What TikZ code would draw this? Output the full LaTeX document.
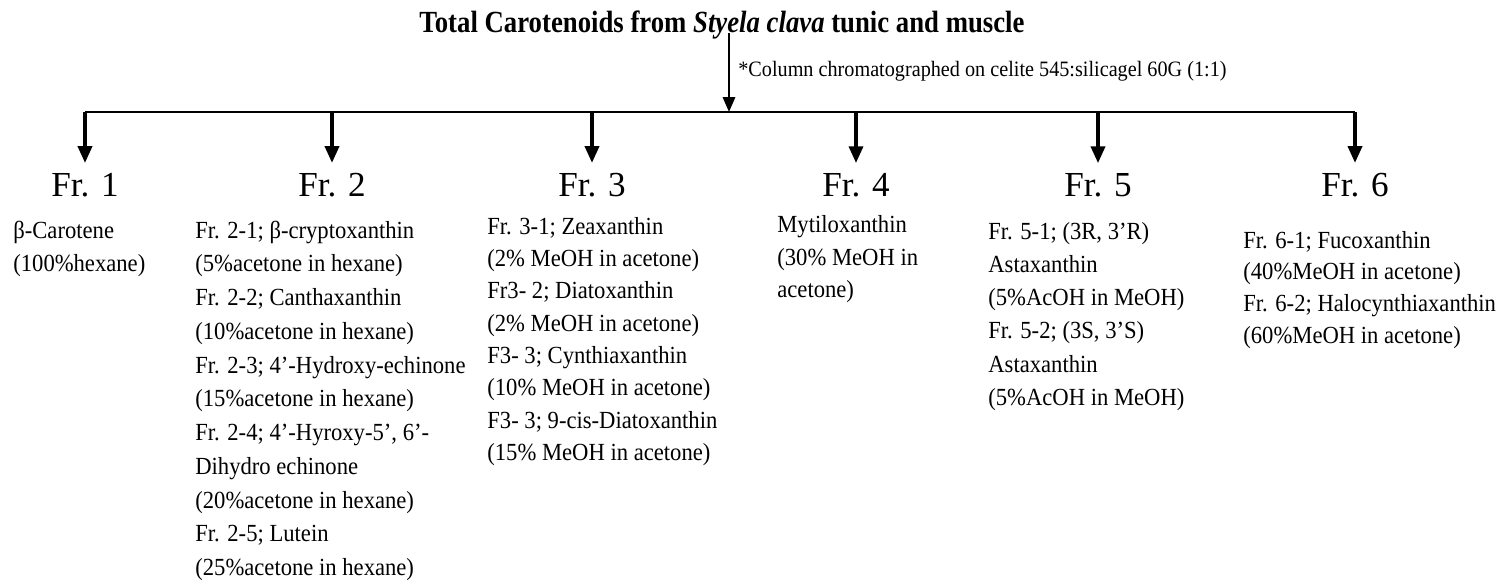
\documentclass[tikz,border=0pt]{standalone}
\usepackage{fontspec}
\setmainfont{Liberation Serif}
\newfontfamily\bodyfont[FakeStretch=0.92]{Liberation Serif}
\newfontfamily\headfont[FakeStretch=0.87]{Liberation Serif}
\usetikzlibrary{arrows.meta}

\begin{document}
\begin{tikzpicture}[
  x=0.02cm, y=-0.02cm,
  heading/.style={
    font=\headfont\bfseries\fontsize{17.5}{20}\selectfont,
    inner sep=0pt
  },
  note/.style={
    font=\bodyfont\fontsize{12.5}{15}\selectfont,
    inner sep=0pt,
    anchor=base west
  },
  frac/.style={
    font=\fontsize{20}{24}\selectfont,
    inner xsep=0pt,
    inner ysep=6pt,
    anchor=base
  },
  fraclist/.style={
    font=\bodyfont\fontsize{14}{#1}\selectfont,
    inner sep=0pt,
    anchor=north west,
    align=left
  },
  fraclist/.default=19pt,
  bar/.style={line width=1.3pt},
  feed/.style={-{Triangle[length=8.5pt,width=7pt]}, line width=1.3pt},
  drop/.style={-{Triangle[length=9.5pt,width=8pt]}, line width=1.9pt}
]

\useasboundingbox (0,0) rectangle (1511,580);

\node[heading, anchor=base] (title) at (722,33)
  {Total Carotenoids from \textit{Styela clava} tunic and muscle};
\node[note] (note) at (738,77)
  {*Column chromatographed on celite 545:silicagel 60G (1:1)};

\coordinate (split) at (729,112);
\draw[feed] (title.base -| split) -- (split);

% fraction labels
\foreach \n/\x in {1/85, 2/332, 3/592, 4/856, 5/1098, 6/1355}
  \node[frac] (fr\n) at (\x,197) {Fr. \n};

\draw[bar] (fr1 |- split) -- (fr6 |- split);
\foreach \n in {1,...,6}
  \draw[drop] (fr\n |- split) -- (fr\n.north);

% eluted carotenoids
\node[fraclist] (list1) at (13,214.5)
  {\strut β-Carotene\\(100\%hexane)};
\node[fraclist=19.2pt] (list2) at (195,214.3)
  {\strut Fr. 2-1; β-cryptoxanthin\\
   (5\%acetone in hexane)\\
   Fr. 2-2; Canthaxanthin\\
   (10\%acetone in hexane)\\
   Fr. 2-3; 4’-Hydroxy-echinone\\
   (15\%acetone in hexane)\\
   Fr. 2-4; 4’-Hyroxy-5’, 6’-\\
   Dihydro echinone\\
   (20\%acetone in hexane)\\
   Fr. 2-5; Lutein\\
   (25\%acetone in hexane)};
\node[fraclist=18.4pt] (list3) at (487,211.3)
  {\strut Fr. 3-1; Zeaxanthin\\
   (2\% MeOH in acetone)\\
   Fr3- 2; Diatoxanthin\\
   (2\% MeOH in acetone)\\
   F3- 3; Cynthiaxanthin\\
   (10\% MeOH in acetone)\\
   F3- 3; 9-cis-Diatoxanthin\\
   (15\% MeOH in acetone)};
\node[fraclist=18.7pt] (list4) at (777,208.9)
  {\strut Mytiloxanthin\\(30\% MeOH in\\acetone)};
\node[fraclist=18.9pt] (list5) at (988,215.7)
  {\strut Fr. 5-1; (3R, 3’R)\\
   Astaxanthin\\
   (5\%AcOH in MeOH)\\
   Fr. 5-2; (3S, 3’S)\\
   Astaxanthin\\
   (5\%AcOH in MeOH)};
\node[fraclist=18pt] (list6) at (1243,225.8)
  {\strut Fr. 6-1; Fucoxanthin\\
   (40\%MeOH in acetone)\\
   Fr. 6-2; Halocynthiaxanthin\\
   (60\%MeOH in acetone)};

\end{tikzpicture}
\end{document}
